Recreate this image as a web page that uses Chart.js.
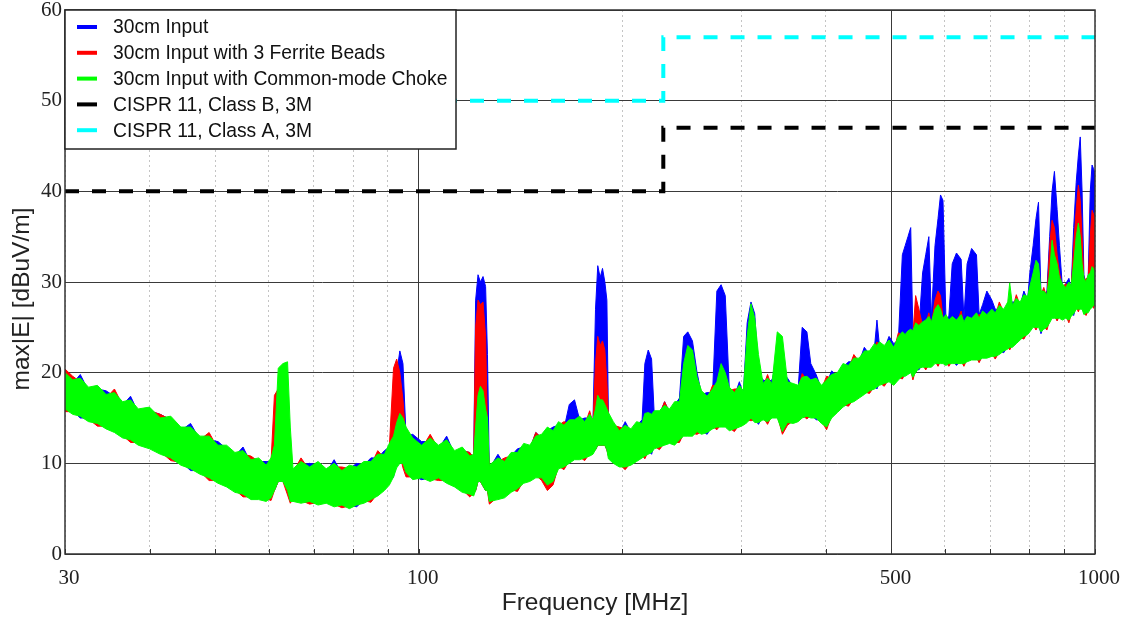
<!DOCTYPE html>
<html>
<head>
<meta charset="utf-8">
<script src="https://cdn.jsdelivr.net/npm/chart.js@4.4.1/dist/chart.umd.min.js"></script>
<style>
  html, body { margin: 0; padding: 0; background: #fff; }
  #wrap { width: 1127px; height: 619px; }
</style>
</head>
<body>
<div id="wrap"><canvas id="emi"></canvas></div>
<script>
// Radiated emission sweeps, MHz vs dBuV/m.
// Each sweep is kept as the low / high edge of the noisy trace at each frequency.
var freqMHz = [
  30, 30.8, 31.6, 32.5, 33.5, 34.5, 35.5, 36.5, 37.5, 38.5,
  40, 41.5, 43, 44.5, 46, 47.5, 49, 50.5, 52, 53.5,
  55, 56.5, 58, 59.5, 60.5, 61.2, 62, 63, 64, 64.6,
  65.2, 67, 69, 71, 73, 75, 77, 79, 81, 83,
  85, 87, 89, 90.5, 91.8, 92.8, 93.8, 94.8, 95.8, 98,
  101, 104, 107, 110, 113, 116, 119, 120.6, 121.4, 122.4,
  123.4, 124.5, 125.6, 126.4, 127.2, 131, 134, 137, 140, 143,
  146, 149, 152, 155, 158, 161, 164, 167, 170, 173,
  176, 179, 181, 182.6, 184, 185.5, 187, 188.5, 189.8, 190.8,
  194, 198, 202, 206, 210, 214, 216, 218.5, 221, 223,
  227, 231, 235, 239, 243, 246.5, 250, 254, 258, 262,
  267, 272, 276, 280, 284, 288, 293, 298, 302, 306,
  310, 314, 318, 323, 328, 333, 339, 345, 351, 358,
  364, 369, 375, 380, 387, 394, 401, 408, 416, 424,
  432, 440, 448, 456, 464, 472, 476, 480, 488, 496,
  504, 512, 519, 524, 529, 534, 538, 543, 549, 556,
  562, 568, 573, 580, 586, 591, 596, 602, 608, 615,
  624, 634, 640, 647, 657, 668, 674, 682, 692, 704,
  712, 722, 733, 743, 748, 755, 765, 775, 785, 795,
  801, 810, 818, 825, 832, 840, 849, 857, 864, 871,
  879, 886, 895, 905, 915, 922, 930, 938, 945, 951,
  957, 963, 970, 977, 984, 990, 995, 1000
];

// 30cm Input
var inputLo = [
  16.4, 15.8, 15.0, 15.0, 14.8, 14.2, 13.8, 13.2, 12.4, 12.4,
  12.0, 11.4, 11.0, 10.2, 9.2, 9.2, 8.8, 8.2, 7.8, 7.2,
  6.4, 6.4, 6.4, 6.2, 6.6, 7.0, 8.0, 8.0, 7.0, 6.0,
  6.2, 6.0, 5.6, 5.8, 6.0, 5.6, 5.8, 5.4, 5.2, 6.0,
  6.4, 6.8, 7.4, 8.0, 8.5, 10.0, 11.0, 10.0, 9.0, 8.6,
  8.2, 8.4, 8.8, 8.2, 7.8, 7.2, 6.4, 6.8, 7.0, 8.0,
  8.0, 7.5, 7.0, 7.0, 6.2, 6.4, 6.6, 7.2, 7.0, 8.2,
  8.4, 8.8, 8.8, 8.0, 7.8, 9.8, 10.0, 10.4, 10.8, 10.8,
  11.0, 11.2, 11.4, 11.5, 12.0, 12.0, 12.0, 12.0, 11.5, 10.9,
  10.4, 10.0, 9.4, 10.2, 10.6, 11.0, 11.2, 11.4, 11.0, 12.0,
  12.2, 12.4, 12.6, 12.4, 12.4, 13.4, 13.4, 13.4, 13.9, 13.6,
  13.2, 14.2, 14.4, 14.4, 14.4, 14.0, 13.6, 14.4, 14.6, 14.9,
  15.4, 14.9, 14.3, 15.2, 15.0, 15.4, 15.4, 13.9, 14.3, 14.8,
  15.0, 15.4, 15.6, 15.4, 14.8, 14.8, 14.4, 15.4, 16.0, 16.6,
  16.4, 17.2, 17.6, 18.0, 18.4, 18.6, 18.2, 19.0, 19.2, 19.4,
  19.0, 19.6, 19.4, 20.0, 20.2, 20.4, 19.9, 20.4, 20.3, 21.0,
  21.0, 21.0, 21.0, 21.4, 20.8, 21.4, 21.4, 21.2, 21.4, 21.4,
  20.8, 21.4, 21.4, 21.6, 21.8, 21.8, 21.2, 22.0, 22.0, 22.2,
  22.2, 22.4, 22.2, 23.0, 23.2, 23.2, 23.6, 24.0, 23.8, 24.6,
  24.9, 25.4, 25.4, 25.4, 24.3, 25.2, 25.4, 25.9, 26.4, 26.4,
  25.8, 26.4, 26.2, 26.4, 26.2, 26.6, 26.3, 27.4, 27.4, 27.4,
  27.4, 26.8, 26.4, 27.0, 27.4, 27.6, 27.8, 27.8
];
var inputHi = [
  19.6, 18.8, 19.8, 18.0, 18.2, 18.0, 17.4, 16.4, 17.4, 15.6,
  15.8, 15.4, 14.8, 13.6, 14.4, 12.6, 12.6, 12.4, 11.6, 10.8,
  11.8, 10.0, 10.2, 10.2, 10.2, 12.0, 17.0, 17.8, 15.0, 9.6,
  9.0, 9.8, 10.0, 9.8, 9.0, 10.4, 8.8, 9.4, 10.0, 9.8,
  10.6, 10.6, 11.4, 11.8, 14.0, 20.0, 22.4, 21.0, 13.0, 13.2,
  12.4, 12.4, 11.6, 13.0, 11.0, 11.4, 11.2, 10.6, 28.0, 30.8,
  30.0, 30.6, 29.5, 22.0, 9.4, 11.0, 9.8, 10.8, 11.6, 11.8,
  11.6, 13.4, 12.8, 13.6, 14.0, 14.2, 13.8, 16.5, 17.0, 14.8,
  15.0, 15.0, 14.4, 27.0, 31.8, 30.5, 31.5, 30.0, 28.0, 15.2,
  14.2, 13.2, 14.6, 13.4, 14.2, 14.8, 21.0, 22.5, 21.5, 15.4,
  15.4, 16.8, 15.6, 16.4, 17.2, 24.0, 24.5, 23.5, 20.0, 17.6,
  17.8, 17.8, 29.0, 29.7, 28.5, 18.0, 17.4, 19.0, 17.6, 25.5,
  27.8, 26.5, 20.0, 19.2, 19.0, 19.2, 21.5, 20.0, 19.4, 18.4,
  18.2, 25.0, 24.5, 21.0, 19.8, 18.2, 18.8, 20.2, 19.6, 20.6,
  21.2, 21.2, 21.2, 22.8, 22.0, 22.8, 25.8, 23.0, 22.6, 24.0,
  23.2, 23.6, 33.0, 34.0, 35.0, 36.0, 24.2, 25.1, 24.8, 31.0,
  33.0, 35.0, 26.0, 34.0, 37.0, 39.6, 39.0, 26.0, 26.2, 32.0,
  33.2, 32.5, 26.0, 32.0, 33.7, 33.0, 26.4, 27.5, 29.0, 28.0,
  27.0, 27.0, 26.6, 27.6, 27.5, 27.8, 27.8, 27.4, 29.0, 28.0,
  31.0, 34.0, 37.0, 38.8, 28.6, 28.6, 29.0, 35.0, 40.0, 42.2,
  38.0, 34.0, 29.4, 29.8, 30.4, 29.2, 36.0, 41.0, 44.0, 46.0,
  40.0, 30.8, 29.6, 30.4, 40.0, 42.9, 42.5, 42.0
];

// 30cm Input with 3 Ferrite Beads
var ferriteLo = [
  15.7, 15.7, 15.5, 14.9, 14.1, 14.1, 13.7, 13.1, 12.3, 12.3,
  11.9, 11.3, 10.3, 10.1, 9.7, 9.1, 8.1, 8.1, 7.7, 7.1,
  6.3, 6.3, 6.3, 6.1, 5.9, 7.0, 8.0, 8.0, 6.5, 5.6,
  6.1, 5.9, 5.5, 5.7, 5.9, 5.5, 5.1, 5.3, 5.7, 5.9,
  5.7, 6.7, 7.3, 7.9, 9.0, 10.0, 11.0, 9.5, 8.5, 8.5,
  8.7, 8.3, 8.1, 8.1, 7.7, 7.1, 6.3, 6.7, 7.0, 8.0,
  8.0, 7.5, 7.0, 7.0, 5.5, 6.3, 6.5, 7.1, 6.9, 8.1,
  8.3, 8.7, 8.1, 7.0, 7.6, 9.7, 9.3, 10.3, 10.7, 10.7,
  10.3, 11.1, 11.3, 11.5, 12.0, 12.0, 12.0, 12.0, 11.5, 10.8,
  10.3, 9.9, 9.3, 10.1, 10.5, 10.9, 10.5, 11.3, 11.5, 11.9,
  11.5, 12.3, 12.5, 12.3, 12.3, 13.3, 13.3, 13.3, 13.2, 13.5,
  13.7, 14.1, 13.7, 14.3, 14.3, 13.9, 13.5, 14.3, 14.5, 14.8,
  14.7, 14.8, 14.8, 15.1, 14.3, 15.3, 15.3, 13.2, 14.2, 14.7,
  14.9, 15.3, 14.9, 15.3, 15.3, 14.7, 13.7, 15.3, 15.9, 16.5,
  16.3, 17.1, 17.5, 17.9, 17.7, 18.5, 18.7, 18.9, 18.5, 19.3,
  18.9, 19.5, 19.3, 19.9, 20.1, 20.3, 19.2, 20.3, 20.8, 20.9,
  20.3, 20.9, 20.9, 21.3, 20.7, 21.3, 21.3, 21.1, 20.7, 21.3,
  21.3, 21.3, 20.7, 21.5, 21.7, 21.7, 21.1, 21.9, 21.9, 22.1,
  21.5, 22.3, 22.7, 22.9, 22.5, 23.1, 23.5, 23.9, 23.7, 24.5,
  24.8, 25.3, 24.7, 25.3, 24.8, 25.1, 24.7, 25.8, 26.3, 26.3,
  25.7, 26.3, 26.1, 26.3, 25.5, 26.5, 26.8, 27.3, 26.7, 27.3,
  27.3, 26.7, 26.3, 26.9, 27.3, 27.5, 27.1, 27.7
];
var ferriteHi = [
  20.4, 19.6, 19.0, 18.0, 18.2, 17.2, 18.2, 16.4, 16.6, 15.6,
  15.8, 15.4, 14.8, 13.6, 13.6, 12.6, 13.4, 11.6, 11.6, 10.8,
  11.0, 10.8, 10.2, 9.4, 10.2, 17.5, 18.2, 16.0, 12.0, 9.4,
  9.0, 10.6, 9.2, 9.8, 9.0, 9.6, 9.6, 9.4, 9.2, 9.8,
  9.8, 11.4, 10.6, 11.8, 20.5, 21.5, 20.0, 17.0, 12.5, 12.4,
  11.6, 13.2, 11.6, 12.2, 11.0, 11.4, 11.2, 10.6, 25.0, 28.0,
  27.5, 27.8, 24.0, 14.0, 9.4, 10.2, 10.6, 10.8, 10.8, 11.8,
  11.6, 13.4, 12.8, 13.6, 13.2, 14.2, 14.6, 14.4, 14.4, 14.8,
  14.2, 15.8, 14.4, 21.0, 24.0, 23.0, 23.5, 22.5, 19.0, 15.2,
  14.2, 14.0, 13.8, 13.4, 14.2, 14.0, 15.1, 15.2, 15.0, 15.4,
  15.4, 16.8, 15.6, 16.4, 16.4, 17.5, 18.0, 17.5, 17.0, 17.6,
  17.0, 18.6, 18.5, 19.5, 18.0, 18.0, 18.2, 18.2, 17.6, 19.0,
  19.0, 18.5, 19.0, 18.4, 19.8, 18.4, 20.0, 19.5, 18.6, 18.4,
  18.2, 19.9, 19.2, 18.8, 19.0, 18.2, 19.6, 19.4, 19.6, 20.6,
  20.4, 22.0, 21.2, 22.0, 22.0, 22.8, 23.4, 23.0, 22.6, 23.2,
  22.4, 24.4, 24.1, 23.8, 24.2, 24.4, 24.2, 28.5, 27.0, 25.2,
  25.4, 26.6, 25.2, 28.0, 29.0, 28.5, 26.0, 26.0, 25.4, 25.8,
  25.4, 26.8, 25.2, 25.8, 25.6, 26.2, 26.4, 26.4, 26.0, 26.6,
  26.2, 27.8, 26.6, 27.2, 27.2, 27.0, 28.6, 27.4, 28.2, 28.0,
  28.0, 29.0, 30.0, 30.5, 28.6, 29.4, 28.2, 34.0, 36.8, 36.0,
  33.0, 31.0, 29.4, 29.8, 29.6, 29.2, 34.0, 38.0, 40.7, 39.0,
  35.0, 30.0, 30.4, 30.4, 35.0, 37.9, 37.5, 37.0
];

// 30cm Input with Common-mode Choke
var chokeLo = [
  16.0, 15.4, 15.2, 14.6, 14.4, 13.8, 13.4, 12.8, 12.6, 12.0,
  11.6, 11.0, 10.6, 9.8, 9.4, 8.8, 8.4, 7.8, 7.4, 6.8,
  6.6, 6.0, 6.0, 5.8, 6.2, 7.0, 8.0, 8.0, 7.0, 5.8,
  5.8, 5.6, 5.8, 5.4, 5.6, 5.2, 5.4, 5.0, 5.4, 5.6,
  6.0, 6.4, 7.0, 7.6, 8.5, 9.5, 10.0, 10.0, 9.0, 8.2,
  8.4, 8.0, 8.4, 7.8, 7.4, 6.8, 6.6, 6.4, 7.0, 8.0,
  8.0, 7.5, 7.0, 7.0, 5.8, 6.0, 6.2, 6.8, 7.2, 7.8,
  8.0, 8.4, 8.4, 7.6, 8.0, 9.4, 9.6, 10.0, 10.4, 10.4,
  10.6, 10.8, 11.0, 11.5, 12.0, 12.0, 12.0, 12.0, 11.5, 10.5,
  10.0, 9.6, 9.6, 9.8, 10.2, 10.6, 10.8, 11.0, 11.2, 11.6,
  11.8, 12.0, 12.2, 12.0, 12.6, 13.0, 13.0, 13.0, 13.5, 13.2,
  13.4, 13.8, 14.0, 14.0, 14.0, 13.6, 13.8, 14.0, 14.2, 14.5,
  15.0, 14.5, 14.5, 14.8, 14.6, 15.0, 15.0, 13.5, 14.5, 14.4,
  14.6, 15.0, 15.2, 15.0, 15.0, 14.4, 14.0, 15.0, 15.6, 16.2,
  16.6, 16.8, 17.2, 17.6, 18.0, 18.2, 18.4, 18.6, 18.8, 19.0,
  18.6, 19.2, 19.6, 19.6, 19.8, 20.0, 19.5, 20.0, 20.5, 20.6,
  20.6, 20.6, 20.6, 21.0, 21.0, 21.0, 21.0, 20.8, 21.0, 21.0,
  21.0, 21.0, 21.0, 21.2, 21.4, 21.4, 21.4, 21.6, 21.6, 21.8,
  21.8, 22.0, 22.4, 22.6, 22.8, 22.8, 23.2, 23.6, 24.0, 24.2,
  24.5, 25.0, 25.0, 25.0, 24.5, 24.8, 25.0, 25.5, 26.0, 26.0,
  26.0, 26.0, 25.8, 26.0, 25.8, 26.2, 26.5, 27.0, 27.0, 27.0,
  27.0, 26.4, 26.6, 26.6, 27.0, 27.2, 27.4, 27.4
];
var chokeHi = [
  20.0, 19.2, 19.4, 18.4, 18.6, 17.6, 17.8, 16.8, 17.0, 16.0,
  16.2, 15.0, 15.2, 14.0, 14.0, 13.0, 13.0, 12.0, 12.0, 11.2,
  11.4, 10.4, 10.6, 9.8, 10.6, 12.0, 20.5, 21.0, 21.2, 14.0,
  9.4, 10.2, 9.6, 10.2, 9.4, 10.0, 9.2, 9.8, 9.6, 10.2,
  10.2, 11.0, 11.0, 12.2, 13.0, 14.5, 15.5, 15.0, 14.0, 12.8,
  12.0, 12.8, 12.0, 12.6, 11.4, 11.8, 10.8, 11.0, 14.0, 17.5,
  18.5, 18.0, 16.0, 15.0, 9.8, 10.6, 10.2, 11.2, 11.2, 12.2,
  12.0, 13.0, 13.2, 14.0, 13.6, 14.6, 14.2, 14.8, 14.8, 15.2,
  14.6, 15.4, 14.8, 16.0, 17.5, 17.0, 17.0, 16.5, 16.0, 15.6,
  14.6, 13.6, 14.2, 13.8, 14.6, 14.4, 15.5, 15.6, 15.4, 15.8,
  15.8, 16.4, 16.0, 16.8, 16.8, 21.0, 23.0, 22.5, 19.5, 18.0,
  17.4, 18.2, 19.0, 21.0, 20.0, 18.4, 17.8, 18.6, 18.0, 24.0,
  27.6, 26.0, 22.0, 18.8, 19.4, 18.8, 24.5, 24.0, 19.0, 18.8,
  18.6, 19.5, 19.6, 19.2, 19.4, 18.6, 19.2, 19.8, 20.0, 21.0,
  20.8, 21.6, 21.6, 22.4, 22.4, 23.2, 23.0, 23.4, 23.0, 23.6,
  22.8, 24.0, 24.5, 24.2, 24.6, 24.8, 24.6, 25.5, 25.2, 25.6,
  25.8, 26.2, 25.6, 27.0, 27.5, 27.0, 26.0, 26.4, 25.8, 26.2,
  25.8, 26.4, 25.6, 26.2, 26.0, 26.6, 26.0, 26.8, 26.4, 27.0,
  26.6, 27.4, 27.0, 27.8, 29.9, 27.4, 28.2, 27.8, 28.6, 28.4,
  29.5, 31.0, 32.4, 32.0, 29.0, 29.0, 28.6, 31.0, 34.6, 33.0,
  32.0, 30.5, 29.8, 29.4, 30.0, 29.6, 32.0, 35.0, 36.5, 35.0,
  32.0, 30.4, 30.0, 30.8, 31.0, 31.7, 31.5, 31.0
];

// CISPR 11 limits at 3 m
var classBFreq = [30, 230, 230, 1000];
var classBLevel = [40, 40, 47, 47];
var classAFreq = [30, 230, 230, 1000];
var classALevel = [50, 50, 57, 57];

var xTicks = [30, 40, 50, 60, 70, 80, 90, 100, 200, 300, 400, 500, 600, 700, 800, 900, 1000];
var xLabels = [30, 100, 500, 1000];
var xMajor = [100, 500];
var yTicks = [0, 10, 20, 30, 40, 50, 60];

var seriesNames = ['30cm Input', '30cm Input with 3 Ferrite Beads', '30cm Input with Common-mode Choke',
  'CISPR 11, Class B, 3M', 'CISPR 11, Class A, 3M'];
var seriesColors = ['#0000ff', '#ff0000', '#00ff00', '#000000', '#00ffff'];
var xTitle = 'Frequency [MHz]';
var yTitle = 'max|E| [dBuV/m]';

function toPoints(xs, ys) {
  return xs.map(function (x, i) { return { x: x, y: ys[i] }; });
}

// a sweep = upper edge line + lower edge line filled up to it
function band(hi, lo, color, order) {
  return [
    { data: toPoints(freqMHz, hi), borderColor: color, borderWidth: 1, pointRadius: 0, fill: false, order: order },
    { data: toPoints(freqMHz, lo), borderColor: color, borderWidth: 1, pointRadius: 0, fill: '-1',
      backgroundColor: color, order: order }
  ];
}

function limit(xs, ys, color) {
  return { data: toPoints(xs, ys), borderColor: color, borderWidth: 4, borderDash: [14, 13],
    pointRadius: 0, fill: false, order: 0 };
}

var frame = {
  id: 'frame',
  afterDatasetsDraw: function (chart) {
    var c = chart.ctx, a = chart.chartArea, sx = chart.scales.x;
    c.save();
    c.strokeStyle = '#333';
    c.lineWidth = 1;
    xTicks.forEach(function (v) {
      var px = Math.round(sx.getPixelForValue(v)) + 0.5;
      c.beginPath(); c.moveTo(px, a.bottom); c.lineTo(px, a.bottom - 5); c.stroke();
    });
    c.lineWidth = 1.5;
    c.strokeRect(a.left, a.top, a.right - a.left, a.bottom - a.top);
    c.restore();
  },
  afterDraw: function (chart) {
    // axis titles
    var c = chart.ctx;
    c.save();
    c.fillStyle = '#222';
    c.font = '24.5px "Liberation Sans", Arial, sans-serif';
    c.textAlign = 'center';
    c.textBaseline = 'middle';
    c.fillText(xTitle, 595, 603);
    c.translate(22, 299);
    c.rotate(-Math.PI / 2);
    c.fillText(yTitle, 0, 0);
    c.restore();
  }
};

var boxLegend = {
  id: 'boxLegend',
  afterDraw: function (chart) {
    var c = chart.ctx, a = chart.chartArea;
    var x0 = a.left, y0 = a.top, w = 391, h = 139;
    c.save();
    c.fillStyle = '#fff';
    c.fillRect(x0, y0, w, h);
    c.strokeStyle = '#222';
    c.lineWidth = 1.5;
    c.strokeRect(x0, y0, w, h);
    c.font = '19.3px "Liberation Sans", Arial, sans-serif';
    c.textBaseline = 'middle';
    seriesNames.forEach(function (name, i) {
      var y = y0 + 17 + i * 25.8;
      c.strokeStyle = seriesColors[i];
      c.lineWidth = 4;
      c.beginPath(); c.moveTo(x0 + 12, y); c.lineTo(x0 + 32, y); c.stroke();
      c.fillStyle = '#111';
      c.fillText(name, x0 + 48, y + 1);
    });
    c.restore();
  }
};

var datasets = []
  .concat(band(inputHi, inputLo, seriesColors[0], 3))
  .concat(band(ferriteHi, ferriteLo, seriesColors[1], 2))
  .concat(band(chokeHi, chokeLo, seriesColors[2], 1))
  .concat([limit(classBFreq, classBLevel, seriesColors[3]), limit(classAFreq, classALevel, seriesColors[4])]);

var tickFont = { family: 'Liberation Serif', size: 21 };

var ctx = document.getElementById('emi').getContext('2d');
var chart = new Chart(ctx, {
  type: 'line',
  data: { datasets: datasets },
  plugins: [frame, boxLegend],
  options: {
    responsive: true,
    maintainAspectRatio: false,
    animation: false,
    layout: { padding: { left: 5, right: 32, top: 10, bottom: 0 } },
    plugins: { legend: { display: false }, tooltip: { enabled: false } },
    scales: {
      x: {
        type: 'logarithmic',
        min: 30,
        max: 1000,
        afterBuildTicks: function (s) { s.ticks = xTicks.map(function (v) { return { value: v }; }); },
        afterFit: function (s) { s.height = 65; s.paddingLeft = 0; s.paddingRight = 0; },
        ticks: {
          autoSkip: false, maxRotation: 0, padding: 12, labelOffset: 4, color: '#222', font: tickFont,
          callback: function (v) { return xLabels.indexOf(v) >= 0 ? String(v) : ''; }
        },
        grid: {
          drawTicks: false, lineWidth: 1,
          color: function (c) { return c.tick && xMajor.indexOf(c.tick.value) >= 0 ? '#3a3a3a' : '#c4c4c4'; }
        },
        border: {
          display: false,
          dash: function (c) { return c.tick && xMajor.indexOf(c.tick.value) < 0 ? [2, 3] : []; }
        }
      },
      y: {
        min: 0,
        max: 60,
        afterBuildTicks: function (s) { s.ticks = yTicks.map(function (v) { return { value: v }; }); },
        afterFit: function (s) { s.width = 60; s.paddingTop = 0; s.paddingBottom = 0; },
        ticks: { padding: 3, color: '#222', font: tickFont },
        grid: { drawTicks: false, color: '#3a3a3a', lineWidth: 1 },
        border: { display: false }
      }
    }
  }
});
</script>
</body>
</html>
